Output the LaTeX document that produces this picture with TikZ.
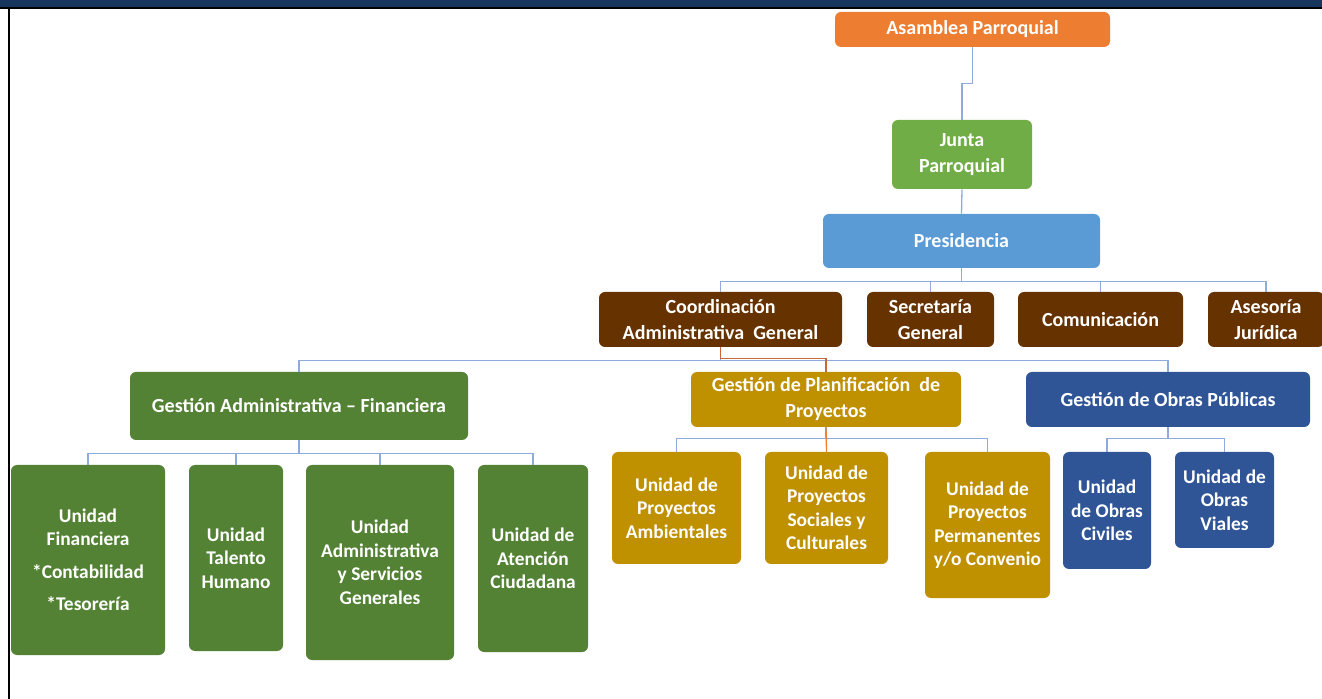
\documentclass[tikz,border=0pt]{standalone}
\usepackage{fontspec}
\setmainfont{Carlito}
\definecolor{cOrange}{HTML}{ED7D31}
\definecolor{cJunta}{HTML}{70AD47}
\definecolor{cPres}{HTML}{5B9BD5}
\definecolor{cBrown}{HTML}{663300}
\definecolor{cGreen}{HTML}{548235}
\definecolor{cGold}{HTML}{BF9000}
\definecolor{cBlue}{HTML}{2F5597}
\definecolor{cLine}{HTML}{8FAADC}
\definecolor{cNavy}{HTML}{17365D}
\definecolor{cHigh}{HTML}{C8673A}
\tikzset{
  box/.style={rectangle, rounded corners=3pt, inner sep=0pt, align=center, text=white,
    font=\bfseries\fontsize{10}{13}\selectfont},
  unit/.style={box, font=\bfseries\fontsize{9.7}{11.75}\selectfont},
  conn/.style={draw=cLine, line width=0.65pt},
  high/.style={draw=cHigh, line width=0.65pt},
}
\begin{document}
\begin{tikzpicture}[x=0.5pt,y=-0.5pt]
\useasboundingbox (0,0) rectangle (1322,699);
\fill[cNavy] (0,0) rectangle (1322,7);
\draw[black, line width=1pt] (0,8) -- (1322,8);
\draw[black, line width=1pt] (9,8) -- (9,699);

% level 1-3
\node[box, fill=cOrange, minimum width=137.5pt, minimum height=17.5pt] (asam) at (972.5,29.5) {Asamblea Parroquial};
\node[box, fill=cJunta, minimum width=70pt, minimum height=34.5pt] (junta) at (962,154.5) {Junta\\Parroquial};
\node[box, fill=cPres, minimum width=138.5pt, minimum height=27pt] (pres) at (961.5,241) {Presidencia};

% level 4
\node[box, fill=cBrown, minimum width=121.5pt, minimum height=27.5pt] (coord) at (720.5,319.5) {Coordinación\\Administrativa\ \ General};
\node[box, fill=cBrown, minimum width=63.5pt, minimum height=27.5pt] (secr) at (930.5,319.5) {Secretaría\\General};
\node[box, fill=cBrown, minimum width=82.5pt, minimum height=27.5pt] (comu) at (1100.5,319.5) {Comunicación};
\node[box, fill=cBrown, minimum width=58pt, minimum height=27.5pt] (ases) at (1266,319.5) {Asesoría\\Jurídica};

% level 5
\node[box, fill=cGreen, minimum width=169pt, minimum height=34pt] (gadm) at (299,406) {Gestión Administrativa – Financiera};
\node[box, fill=cGold, minimum width=135pt, minimum height=27.5pt] (gplan) at (826,399.5) {Gestión de Planificación\ \ de\\Proyectos};
\node[box, fill=cBlue, minimum width=142pt, minimum height=27.5pt] (gobr) at (1168,399.5) {Gestión de Obras Públicas};

% level 6
\node[unit, fill=cGreen, minimum width=77pt, minimum height=95pt] (ufin) at (88,560) {Unidad\\Financiera\\[4.5pt]*Contabilidad\\[4.5pt]*Tesorería};
\node[unit, fill=cGreen, minimum width=47pt, minimum height=93pt] (utal) at (236,558) {Unidad\\Talento\\Humano};
\node[unit, fill=cGreen, minimum width=74pt, minimum height=97.5pt] (uadm) at (380,562.5) {Unidad\\Administrativa\\y Servicios\\Generales};
\node[unit, fill=cGreen, minimum width=55pt, minimum height=93.5pt] (uate) at (533,558.5) {Unidad de\\Atención\\Ciudadana};

\node[unit, fill=cGold, minimum width=64.5pt, minimum height=56pt] (uamb) at (676.5,508) {Unidad de\\Proyectos\\Ambientales};
\node[unit, fill=cGold, minimum width=61.5pt, minimum height=56pt] (usoc) at (826.5,508) {Unidad de\\Proyectos\\Sociales y\\Culturales};
\node[unit, fill=cGold, minimum width=62.5pt, minimum height=73pt] (uper) at (987.5,525) {Unidad de\\Proyectos\\Permanentes\\y/o Convenio};

\node[unit, fill=cBlue, minimum width=44pt, minimum height=58.5pt] (uciv) at (1107,510.5) {Unidad\\de Obras\\Civiles};
\node[unit, fill=cBlue, minimum width=49.5pt, minimum height=48pt] (uvia) at (1224.5,500) {Unidad de\\Obras\\Viales};

% connectors
\draw[conn] (asam.south) -- ++(0,36) -| (junta.north);
\draw[conn] (junta.south) -- (pres.north);
\foreach \c in {coord,secr,comu,ases}
  \draw[conn] (pres.south) -- ++(0,13) -| (\c.north);
\foreach \c in {gadm,gplan,gobr}
  \draw[conn] (coord.south) -- ++(0,13) -| (\c.north);
\foreach \c in {ufin,utal,uadm,uate}
  \draw[conn] (gadm.south) -- ++(0,13) -| (\c.north);
\foreach \c in {uamb,usoc,uper}
  \draw[conn] (gplan.south) -- ++(0,11) -| (\c.north);
\foreach \c in {uciv,uvia}
  \draw[conn] (gobr.south) -- ++(0,11) -| (\c.north);
% highlighted path
\draw[high] (coord.south) -- ++(0,11) -| (gplan.north);
\draw[draw=cOrange, line width=0.65pt] (gplan.south) -- (usoc.north);
\end{tikzpicture}
\end{document}
